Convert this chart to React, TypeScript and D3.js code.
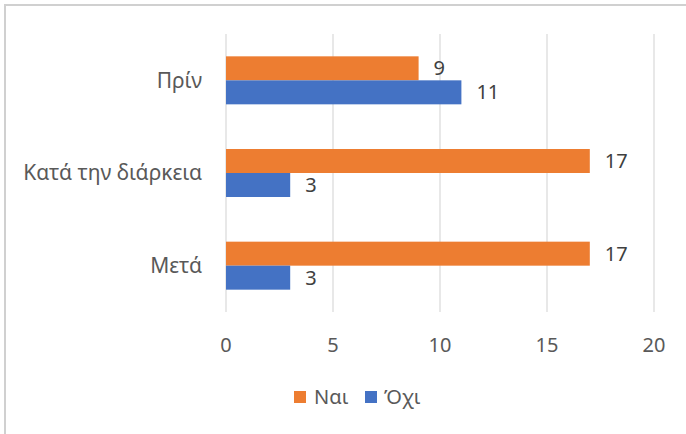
import React from "react";
import * as d3 from "d3";

const categories = ["Πρίν", "Κατά την διάρκεια", "Μετά"];
const seriesNames = ["Ναι", "Όχι"];
const naiValues = [9, 17, 17];
const oxiValues = [11, 3, 3];
const xTicks = [0, 5, 10, 15, 20];
const colors = ["#ED7D31", "#4472C4"];

const W = 686;
const H = 434;
const FONT = "'Noto Sans', 'DejaVu Sans', sans-serif";
const FS = 20;

export default function App() {
  const left = 226;
  const right = 654;
  const top = 34;
  const bottom = 312;

  const x = d3.scaleLinear().domain([0, 20]).range([left, right]);
  const y = d3.scaleBand<string>().domain(categories).range([top, bottom]).paddingInner(0).paddingOuter(0);
  const groupH = 48;
  const sub = d3.scaleBand<string>().domain(seriesNames).range([0, groupH]);
  const series = [naiValues, oxiValues];
  const textColor = "#595959";

  return (
    <div style={{ position: "absolute", left: 0, top: 0, width: W, height: H }}>
      <svg width={W} height={H} style={{ display: "block" }}>
        <rect x={0} y={0} width={W} height={H} fill="#fff" />
        <path d={`M5,${H + 10}V5H${W + 10}`} fill="none" stroke="#D0D0D0" strokeWidth={2} />
        {xTicks.map((t) => (
          <line key={t} x1={x(t)} x2={x(t)} y1={top} y2={bottom} stroke="#D9D9D9" strokeWidth={1.2} />
        ))}
        {categories.map((c, i) => {
          const y0 = (y(c) as number) + (y.bandwidth() - groupH) / 2;
          return (
            <g key={c}>
              {series.map((vals, s) => {
                const by = y0 + (sub(seriesNames[s]) as number);
                const bh = sub.bandwidth();
                return (
                  <g key={s}>
                    <rect x={x(0)} y={by} width={x(vals[i]) - x(0)} height={bh} fill={colors[s]} />
                    <text x={x(vals[i]) + 15} y={by + bh / 2} dy="0.35em" fontFamily={FONT} fontSize={FS} fill="#404040">
                      {vals[i]}
                    </text>
                  </g>
                );
              })}
              <text x={202} y={(y(c) as number) + y.bandwidth() / 2} dy="0.35em" textAnchor="end" fontFamily={FONT} fontSize={21} fill={textColor}>
                {c}
              </text>
            </g>
          );
        })}
        {xTicks.map((t) => (
          <text key={t} x={x(t)} y={345} dy="0.35em" textAnchor="middle" fontFamily={FONT} fontSize={FS} fill={textColor}>
            {t}
          </text>
        ))}
        <g>
          <rect x={294} y={391} width={12} height={12} fill={colors[0]} />
          <text x={314} y={397} dy="0.35em" fontFamily={FONT} fontSize={FS} fill={textColor}>{seriesNames[0]}</text>
          <rect x={365} y={391} width={12} height={12} fill={colors[1]} />
          <text x={384} y={397} dy="0.35em" fontFamily={FONT} fontSize={FS} fill={textColor}>{seriesNames[1]}</text>
        </g>
      </svg>
    </div>
  );
}
